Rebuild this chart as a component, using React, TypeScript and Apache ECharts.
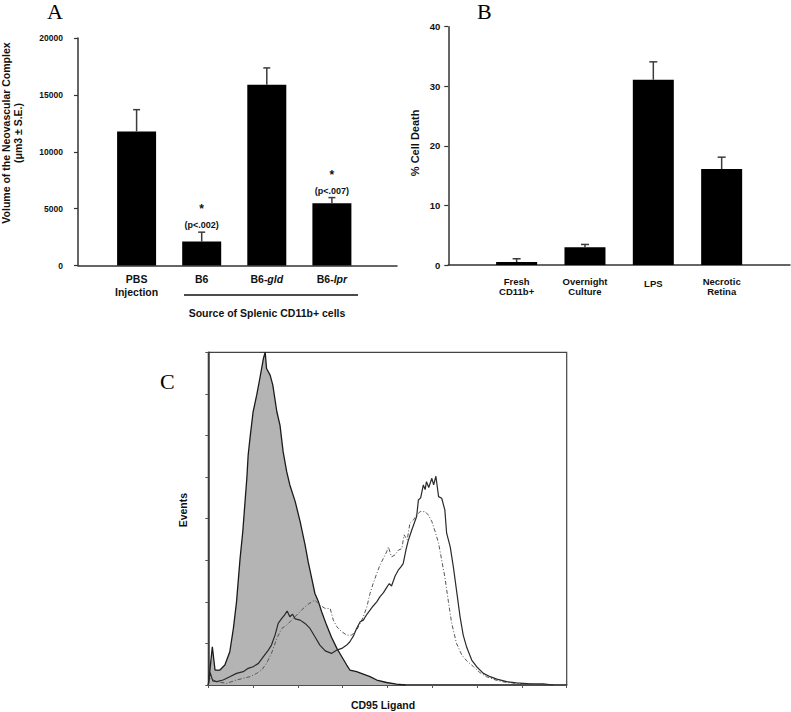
import React, { useEffect, useRef } from "react";
import * as echarts from "echarts";

// ---------- Panel A data ----------
const categoriesA = ["PBS\nInjection", "B6", "B6-{i|gld}", "B6-{i|lpr}"];
const valuesA = [11790, 2100, 15880, 5480];
const seA = [1910, 830, 1490, 490];
const annotA = ["", "(p<.002)", "", "(p<.007)"];
const yTicksA = [0, 5000, 10000, 15000, 20000];

// ---------- Panel B data ----------
const categoriesB = ["Fresh\nCD11b+", "Overnight\nCulture", "{m|LPS}", "Necrotic\nRetina"];
const valuesB = [0.5, 3.0, 31.1, 16.1];
const seB = [0.55, 0.45, 3.0, 2.0];
const yTicksB = [0, 10, 20, 30, 40];

// ---------- Panel C data (histogram, CD95 ligand channel vs events) ----------
const isoX = [0, 0.04, 0.09, 0.15, 0.26, 0.37, 0.48, 0.56, 0.63, 0.71, 0.77, 0.82, 0.86, 0.89, 0.93, 1.0, 1.08, 1.15, 1.23, 1.27, 1.3, 1.38, 1.44, 1.53, 1.6, 1.67, 1.75, 1.82, 1.94, 2.05, 2.16, 2.23, 2.31, 2.38, 2.46, 2.53, 2.64, 2.75, 2.87, 2.98, 3.09, 3.16, 3.31, 3.46, 3.61, 3.76, 3.98, 4.2, 4.4];
const isoY = [0, 40, 92, 36, 36, 48, 80, 136, 200, 305, 369, 441, 497, 553, 593, 657, 697, 737, 785, 800, 761, 745, 721, 657, 625, 561, 513, 481, 441, 393, 337, 296, 256, 220, 200, 176, 144, 115, 88, 68, 48, 36, 32, 26, 20, 12, 6, 2, 0];

const solidX = [0, 0.04, 0.1, 0.19, 0.33, 0.48, 0.63, 0.78, 0.89, 1.0, 1.12, 1.23, 1.34, 1.41, 1.49, 1.56, 1.64, 1.7, 1.76, 1.82, 1.88, 1.94, 2.05, 2.16, 2.27, 2.38, 2.49, 2.61, 2.75, 2.87, 2.98, 3.09, 3.16, 3.24, 3.31, 3.39, 3.46, 3.54, 3.61, 3.68, 3.76, 3.83, 3.91, 3.98, 4.04, 4.09, 4.17, 4.24, 4.3, 4.35, 4.41, 4.46, 4.54, 4.61, 4.65, 4.69, 4.74, 4.8, 4.84, 4.87, 4.92, 4.99, 5.03, 5.08, 5.14, 5.21, 5.28, 5.32, 5.4, 5.47, 5.54, 5.62, 5.69, 5.77, 5.88, 5.99, 6.14, 6.29, 6.44, 6.66, 6.88, 7.18, 7.48, 7.7];
const solidY = [0, 30, 10, 8, 12, 20, 28, 32, 40, 44, 52, 68, 84, 96, 120, 148, 160, 168, 178, 164, 170, 159, 156, 148, 136, 116, 96, 82, 76, 84, 88, 96, 104, 118, 136, 152, 156, 170, 180, 190, 200, 212, 222, 234, 244, 238, 262, 276, 284, 292, 324, 346, 372, 393, 405, 445, 450, 481, 470, 489, 475, 497, 481, 502, 453, 449, 421, 365, 332, 284, 228, 164, 120, 90, 60, 44, 28, 20, 14, 8, 5, 3, 3, 0];

const dashX = [0, 0.04, 0.19, 0.41, 0.63, 0.78, 0.93, 1.08, 1.19, 1.3, 1.41, 1.53, 1.64, 1.75, 1.86, 1.97, 2.08, 2.2, 2.31, 2.38, 2.49, 2.61, 2.72, 2.79, 2.87, 2.98, 3.09, 3.2, 3.31, 3.39, 3.46, 3.54, 3.61, 3.68, 3.76, 3.83, 3.91, 3.98, 4.02, 4.09, 4.17, 4.24, 4.32, 4.37, 4.44, 4.5, 4.58, 4.65, 4.73, 4.84, 4.91, 4.99, 5.06, 5.14, 5.21, 5.28, 5.36, 5.43, 5.54, 5.66, 5.77, 5.92, 6.06, 6.21, 6.44, 6.66, 6.88, 7.2, 7.4];
const dashY = [0, 16, 8, 4, 12, 16, 20, 28, 36, 52, 76, 112, 136, 144, 156, 168, 180, 192, 200, 204, 192, 184, 184, 156, 140, 128, 120, 120, 132, 148, 164, 188, 220, 244, 268, 288, 305, 320, 332, 308, 313, 324, 328, 361, 349, 389, 397, 409, 417, 417, 409, 393, 370, 341, 300, 260, 200, 150, 100, 72, 58, 44, 30, 20, 11, 6, 4, 2, 0];

const SANS = "'Liberation Sans', Arial, Helvetica, sans-serif";
const SERIF = "'Liberation Serif', 'Times New Roman', serif";
const AXIS = "#333";

function zip(xs: number[], ys: number[]) {
  return xs.map((x, i) => [x, ys[i]]);
}

function errorRenderer(annots: string[], cap: number) {
  return (params: any, api: any) => {
    const x = api.value(0);
    const v = api.value(1);
    const se = api.value(2);
    const base = api.coord([x, v]);
    const top = api.coord([x, v + se]);
    const st = { stroke: "#3c3c3c", lineWidth: 1.5 };
    const children: any[] = [
      { type: "line", shape: { x1: base[0], y1: base[1], x2: top[0], y2: top[1] }, style: st },
      { type: "line", shape: { x1: top[0] - cap, y1: top[1], x2: top[0] + cap, y2: top[1] }, style: st },
    ];
    const a = annots[params.dataIndex];
    if (a) {
      children.push({
        type: "text",
        x: top[0],
        y: top[1] - 7,
        style: { text: a, fontSize: 9, fontWeight: "bold", fontFamily: SANS, fill: "#111", align: "center", verticalAlign: "middle" },
      });
      children.push({
        type: "text",
        x: top[0],
        y: top[1] - 23,
        style: { text: "*", fontSize: 12, fontWeight: "bold", fontFamily: SANS, fill: "#111", align: "center", verticalAlign: "middle" },
      });
    }
    return { type: "group", children };
  };
}

export default function App() {
  const ref = useRef<HTMLDivElement>(null);

  useEffect(() => {
    if (!ref.current) return;
    const chart = echarts.init(ref.current, null, { renderer: "svg" });

    const barLabelBase = { fontSize: 10.5, fontWeight: "bold", fontFamily: SANS, color: "#111", lineHeight: 13 };

    const option: any = {
      animation: false,
      backgroundColor: "#fff",
      textStyle: { fontFamily: SANS },
      grid: [
        { left: 78, top: 38, width: 319, height: 227.5, outerBoundsMode: "none", containLabel: false },
        { left: 448.3, top: 26.7, width: 341.7, height: 238.3, outerBoundsMode: "none", containLabel: false },
        { left: 208.3, top: 352.3, width: 358.4, height: 332.7, outerBoundsMode: "none", containLabel: false, show: true, borderColor: "#444", borderWidth: 1.2, backgroundColor: "transparent" },
      ],
      xAxis: [
        {
          gridIndex: 0,
          type: "value",
          min: -0.9,
          max: 4.0,
          axisLine: { show: true, onZero: false, lineStyle: { color: AXIS, width: 1.5 } },
          axisTick: { show: false },
          splitLine: { show: false },
          axisLabel: {
            customValues: [0, 1, 2, 3],
            formatter: (v: number) => categoriesA[Math.round(v)],
            margin: 7,
            ...barLabelBase,
            rich: {
              i: { fontSize: 10.5, fontWeight: "bold", fontStyle: "italic", fontFamily: SANS, color: "#111", lineHeight: 13 },
            },
          },
        },
        {
          gridIndex: 1,
          type: "value",
          min: -1,
          max: 4,
          axisLine: { show: true, onZero: false, lineStyle: { color: AXIS, width: 1.5 } },
          axisTick: { show: false },
          splitLine: { show: false },
          axisLabel: {
            customValues: [0, 1, 2, 3],
            formatter: (v: number) => categoriesB[Math.round(v)],
            margin: 11,
            fontSize: 9.5,
            fontWeight: "bold",
            fontFamily: SANS,
            color: "#111",
            lineHeight: 10.5,
            rich: {
              m: { fontSize: 9.5, fontWeight: "bold", fontFamily: SANS, color: "#111", lineHeight: 10.5, padding: [5, 0, 0, 0] },
            },
          },
        },
        {
          gridIndex: 2,
          type: "value",
          min: 0,
          max: 8,
          interval: 1,
          name: "CD95 Ligand",
          nameLocation: "middle",
          nameGap: 14,
          nameTextStyle: { fontSize: 10.5, fontWeight: "bold", fontFamily: SANS, color: "#111", padding: [0, 9, 0, 0] },
          axisLine: { show: true, onZero: false, lineStyle: { color: "#333", width: 1.5 } },
          axisTick: { show: true, inside: false, length: 3, lineStyle: { color: "#555" } },
          axisLabel: { show: false },
          splitLine: { show: false },
        },
      ],
      yAxis: [
        {
          gridIndex: 0,
          type: "value",
          min: yTicksA[0],
          max: yTicksA[yTicksA.length - 1],
          interval: yTicksA[1] - yTicksA[0],
          axisLine: { show: true, onZero: false, lineStyle: { color: AXIS, width: 1.5 } },
          axisTick: { show: true, length: 4, lineStyle: { color: AXIS, width: 1.2 } },
          splitLine: { show: false },
          axisLabel: { formatter: (v: number) => String(v), margin: 15, fontSize: 8.5, fontWeight: "bold", fontFamily: SANS, color: "#111" },
        },
        {
          gridIndex: 1,
          type: "value",
          min: yTicksB[0],
          max: yTicksB[yTicksB.length - 1],
          interval: yTicksB[1] - yTicksB[0],
          name: "% Cell Death",
          nameLocation: "middle",
          nameRotate: 90,
          nameGap: 28,
          nameTextStyle: { fontSize: 11, fontWeight: "bold", fontFamily: SANS, color: "#111", padding: [0, 0, 0, 6] },
          axisLine: { show: true, onZero: false, lineStyle: { color: AXIS, width: 1.5 } },
          axisTick: { show: true, length: 4, lineStyle: { color: AXIS, width: 1.2 } },
          splitLine: { show: false },
          axisLabel: { formatter: (v: number) => String(v), margin: 8, fontSize: 9.5, fontWeight: "bold", fontFamily: SANS, color: "#111" },
        },
        {
          gridIndex: 2,
          type: "value",
          min: 0,
          max: 800,
          interval: 100,
          name: "Events",
          nameLocation: "middle",
          nameRotate: 90,
          nameGap: 20,
          nameTextStyle: { fontSize: 10.5, fontWeight: "bold", fontFamily: SANS, color: "#111", padding: [0, 0, 0, 17] },
          axisLine: { show: true, onZero: false, lineStyle: { color: "#333", width: 1.5 } },
          axisTick: { show: true, inside: false, length: 3, lineStyle: { color: "#555" } },
          axisLabel: { show: false },
          splitLine: { show: false },
        },
      ],
      series: [
        {
          type: "bar",
          xAxisIndex: 0,
          yAxisIndex: 0,
          barWidth: 39,
          itemStyle: { color: "#000" },
          data: valuesA.map((v, i) => [i, v]),
        },
        {
          type: "custom",
          xAxisIndex: 0,
          yAxisIndex: 0,
          clip: false,
          z: 5,
          renderItem: errorRenderer(annotA, 3.5),
          data: valuesA.map((v, i) => [i, v, seA[i]]),
        },
        {
          type: "bar",
          xAxisIndex: 1,
          yAxisIndex: 1,
          barWidth: 41,
          itemStyle: { color: "#000" },
          data: valuesB.map((v, i) => [i, v]),
        },
        {
          type: "custom",
          xAxisIndex: 1,
          yAxisIndex: 1,
          clip: false,
          z: 5,
          renderItem: errorRenderer(["", "", "", ""], 4),
          data: valuesB.map((v, i) => [i, v, seB[i]]),
        },
        {
          type: "line",
          name: "Isotype",
          xAxisIndex: 2,
          yAxisIndex: 2,
          showSymbol: false,
          symbol: "none",
          lineStyle: { color: "#1a1a1a", width: 1.3 },
          areaStyle: { color: "#b4b4b4", opacity: 1 },
          data: zip(isoX, isoY),
          z: 2,
        },
        {
          type: "line",
          name: "CD95L",
          xAxisIndex: 2,
          yAxisIndex: 2,
          showSymbol: false,
          symbol: "none",
          lineStyle: { color: "#2a2a2a", width: 1.2 },
          data: zip(solidX, solidY),
          z: 4,
        },
        {
          type: "line",
          name: "CD95L-2",
          xAxisIndex: 2,
          yAxisIndex: 2,
          showSymbol: false,
          symbol: "none",
          lineStyle: { color: "#555", width: 1, type: [4, 2, 1, 2] },
          data: zip(dashX, dashY),
          z: 3,
        },
      ],
      graphic: {
        elements: [
          { type: "text", x: 47, y: 11, style: { text: "A", fontSize: 22, fontFamily: SERIF, fill: "#000", align: "left", verticalAlign: "middle" } },
          { type: "text", x: 477, y: 11, style: { text: "B", fontSize: 22, fontFamily: SERIF, fill: "#000", align: "left", verticalAlign: "middle" } },
          { type: "text", x: 160, y: 381, style: { text: "C", fontSize: 22, fontFamily: SERIF, fill: "#000", align: "left", verticalAlign: "middle" } },
          {
            type: "text",
            x: 6,
            y: 133,
            rotation: Math.PI / 2,
            style: { text: "Volume of the Neovascular Complex", fontSize: 10.5, fontWeight: "bold", fontFamily: SANS, fill: "#111", align: "center", verticalAlign: "middle" },
          },
          {
            type: "text",
            x: 18,
            y: 133,
            rotation: Math.PI / 2,
            style: { text: "(\u03bcm3 \u00b1 S.E.)", fontSize: 10.5, fontWeight: "bold", fontFamily: SANS, fill: "#111", align: "center", verticalAlign: "middle" },
          },
          { type: "line", shape: { x1: 184, y1: 295, x2: 358, y2: 295 }, style: { stroke: "#111", lineWidth: 1.5 } },
          {
            type: "text",
            x: 267,
            y: 313,
            style: { text: "Source of Splenic CD11b+ cells", fontSize: 10.5, fontWeight: "bold", fontFamily: SANS, fill: "#111", align: "center", verticalAlign: "middle" },
          },
        ],
      },
    };

    chart.setOption(option);
    return () => chart.dispose();
  }, []);

  return (
    <div
      ref={ref}
      style={{ position: "fixed", left: 0, top: 0, width: 791, height: 712, background: "#fff" }}
    />
  );
}
